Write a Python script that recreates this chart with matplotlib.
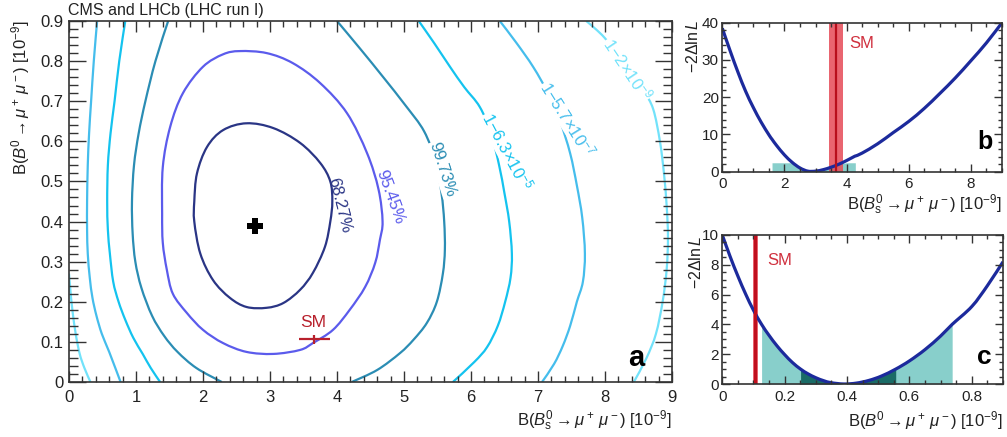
import numpy as np
import matplotlib
matplotlib.use('Agg')
import matplotlib.pyplot as plt
from matplotlib.path import Path
from matplotlib.patches import PathPatch
from matplotlib.ticker import MultipleLocator, FixedLocator, FixedFormatter

plt.rcParams['font.family'] = ['Liberation Sans', 'DejaVu Sans']
plt.rcParams['mathtext.fontset'] = 'custom'
plt.rcParams['mathtext.rm'] = 'Liberation Sans'
plt.rcParams['mathtext.it'] = 'Liberation Sans:italic'
plt.rcParams['mathtext.bf'] = 'Liberation Sans:bold'
plt.rcParams['mathtext.sf'] = 'Liberation Sans'

# ---------------- data: panel a (2D contours) ----------------
best_fit_bs = 2.78
best_fit_b0 = 0.39
sm_bs, sm_bs_err = 3.66, 0.23
sm_b0, sm_b0_err = 0.106, 0.009

c68_x = [2.65, 3.05, 3.45, 3.75, 3.90, 3.93, 3.90, 3.82, 3.64, 3.45, 3.20, 2.95, 2.65, 2.40, 2.15, 1.96, 1.87, 1.87, 1.91, 2.06, 2.30, 2.65]
c68_y = [0.645, 0.633, 0.596, 0.546, 0.50, 0.45, 0.40, 0.337, 0.272, 0.23, 0.197, 0.185, 0.187, 0.21, 0.254, 0.32, 0.40, 0.45, 0.52, 0.586, 0.628, 0.645]

c95_x = [2.55, 2.95, 3.34, 3.75, 4.15, 4.45, 4.62, 4.68, 4.64, 4.57, 4.42, 4.19, 3.94, 3.64, 3.45, 3.05, 2.65, 2.30, 2.00, 1.76, 1.55, 1.46, 1.40, 1.39, 1.40, 1.51, 1.70, 2.00, 2.30, 2.55]
c95_y = [0.825, 0.82, 0.795, 0.745, 0.67, 0.57, 0.48, 0.40, 0.354, 0.297, 0.237, 0.18, 0.13, 0.097, 0.08, 0.07, 0.075, 0.097, 0.13, 0.172, 0.22, 0.28, 0.347, 0.42, 0.536, 0.636, 0.72, 0.786, 0.817, 0.825]

c997_left_x = [1.48, 1.29, 1.14, 1.04, 0.97, 0.94, 0.95, 0.99, 1.08, 1.24, 1.42, 1.62, 1.90, 2.28]
c997_left_y = [0.90, 0.80, 0.70, 0.62, 0.54, 0.45, 0.37, 0.30, 0.235, 0.165, 0.115, 0.075, 0.035, 0.0]
c997_right_x = [4.00, 4.35, 4.69, 5.02, 5.30, 5.47, 5.56, 5.60, 5.61, 5.58, 5.49, 5.34, 5.14, 4.94, 4.60, 4.22]
c997_right_y = [0.90, 0.83, 0.76, 0.69, 0.625, 0.55, 0.47, 0.40, 0.33, 0.27, 0.20, 0.147, 0.105, 0.072, 0.03, 0.0]

c5s_left_x = [0.84, 0.75, 0.68, 0.62, 0.58, 0.57, 0.58, 0.61, 0.66, 0.74, 0.84, 0.96, 1.10, 1.22, 1.36]
c5s_left_y = [0.90, 0.80, 0.70, 0.62, 0.54, 0.45, 0.38, 0.32, 0.25, 0.20, 0.155, 0.11, 0.07, 0.035, 0.0]
c5s_right_x = [5.22, 5.45, 5.69, 5.90, 6.13, 6.30, 6.42, 6.50, 6.57, 6.61, 6.59, 6.51, 6.40, 6.24, 6.05, 5.73]
c5s_right_y = [0.90, 0.845, 0.785, 0.735, 0.686, 0.62, 0.54, 0.47, 0.40, 0.32, 0.26, 0.20, 0.14, 0.087, 0.05, 0.0]

c7s_left_x = [0.42, 0.37, 0.33, 0.30, 0.28, 0.27, 0.27, 0.28, 0.31, 0.35, 0.41, 0.49, 0.60, 0.77]
c7s_left_y = [0.90, 0.80, 0.70, 0.62, 0.54, 0.45, 0.38, 0.32, 0.26, 0.21, 0.165, 0.12, 0.075, 0.0]
c7s_right_x = [6.43, 6.68, 6.93, 7.15, 7.33, 7.48, 7.58, 7.66, 7.70, 7.67, 7.58, 7.48, 7.37, 7.24, 7.06]
c7s_right_y = [0.90, 0.845, 0.785, 0.72, 0.65, 0.57, 0.49, 0.41, 0.32, 0.25, 0.20, 0.14, 0.09, 0.045, 0.0]

c9s_left_x = [0.0, 0.02, 0.05, 0.10, 0.16, 0.23, 0.32]
c9s_left_y = [0.27, 0.23, 0.18, 0.12, 0.07, 0.035, 0.0]
c9s_right_x = [7.72, 7.86, 8.00, 8.20, 8.40, 8.58, 8.72, 8.82, 8.88, 8.92, 8.94, 8.92, 8.86, 8.76, 8.62, 8.43]
c9s_right_y = [0.90, 0.88, 0.857, 0.815, 0.77, 0.725, 0.68, 0.60, 0.52, 0.44, 0.36, 0.28, 0.20, 0.12, 0.06, 0.0]

level_labels = ['68.27%', '95.45%', '99.73%',
                r'1$-$6.3$\times$10$^{-5}$', r'1$-$5.7$\times$10$^{-7}$', r'1$-$2$\times$10$^{-9}$']

a_xticks = [0, 1, 2, 3, 4, 5, 6, 7, 8, 9]
a_xticklabels = ['0', '1', '2', '3', '4', '5', '6', '7', '8', '9']
a_yticks = [0, 0.1, 0.2, 0.3, 0.4, 0.5, 0.6, 0.7, 0.8, 0.9]
a_yticklabels = ['0', '0.1', '0.2', '0.3', '0.4', '0.5', '0.6', '0.7', '0.8', '0.9']

# ---------------- data: panel b (Bs profile) ----------------
b_x = [0.0, 0.25, 0.5, 0.75, 1.0, 1.25, 1.5, 1.6, 1.75, 2.0, 2.25, 2.5, 2.75, 3.0, 3.25, 3.5, 3.75, 4.0, 4.25, 4.28, 4.5, 5.0, 5.5, 6.0, 6.5, 7.0, 7.5, 8.0, 8.5, 9.0]
b_y = [38.5, 32.5, 26.8, 21.6, 17.2, 13.3, 9.9, 8.7, 7.0, 4.5, 2.5, 1.0, 0.15, 0.15, 0.55, 1.2, 2.0, 3.0, 4.1, 4.2, 5.0, 7.5, 10.5, 13.5, 17.0, 21.0, 25.2, 29.8, 34.6, 40.0]
b_band_lo, b_band_hi, b_band_top = 1.6, 4.28, 2.4
b_xticks = [0, 2, 4, 6, 8]
b_xticklabels = ['0', '2', '4', '6', '8']
b_yticks = [0, 10, 20, 30, 40]
b_yticklabels = ['0', '10', '20', '30', '40']

# ---------------- data: panel c (B0 profile) ----------------
c_x = [0.0, 0.025, 0.05, 0.075, 0.1, 0.126, 0.15, 0.175, 0.2, 0.225, 0.251, 0.275, 0.3, 0.325, 0.35, 0.39, 0.43, 0.47, 0.51, 0.556, 0.6, 0.65, 0.7, 0.737, 0.8, 0.85, 0.9]
c_y = [10.0, 8.56, 7.24, 6.03, 4.95, 4.0, 3.26, 2.57, 1.97, 1.44, 1.0, 0.68, 0.42, 0.22, 0.083, 0.0, 0.06, 0.24, 0.53, 1.0, 1.55, 2.31, 3.22, 4.0, 5.2, 6.6, 8.2]
c_1s_lo, c_1s_hi = 0.251, 0.556
c_2s_lo, c_2s_hi = 0.126, 0.737
c_xticks = [0, 0.2, 0.4, 0.6, 0.8]
c_xticklabels = ['0', '0.2', '0.4', '0.6', '0.8']
c_yticks = [0, 2, 4, 6, 8, 10]
c_yticklabels = ['0', '2', '4', '6', '8', '10']

# ---------------- styling ----------------
W, H = 1007, 437
col68 = '#2a3585'
col95 = '#5b5bec'
col997 = '#2b8db4'
col5s = '#14c3ef'
col7s = '#45bdec'
col9s = '#72e2fa'
sm_red = '#b8202c'
band_red = '#e64a57'
curve_blue = '#1c2a9c'
teal_light = '#88cfcb'
teal_dark = '#1a6b66'
axcol = '#333333'
txtcol = '#222222'


def px_axes(l, t, r, b):
    return [l / W, 1 - b / H, (r - l) / W, (b - t) / H]


def smooth_path(xs, ys, closed=False):
    """Cubic Bezier path passing through the given points (Catmull-Rom tangents)."""
    pts = np.column_stack([xs, ys]).astype(float)
    n = len(pts)
    verts = [pts[0]]
    codes = [Path.MOVETO]
    for i in range(n - 1):
        if i > 0:
            p0 = pts[i - 1]
        else:
            p0 = pts[-2] if closed else pts[0]
        p1 = pts[i]
        p2 = pts[i + 1]
        if i + 2 < n:
            p3 = pts[i + 2]
        else:
            p3 = pts[1] if closed else pts[i + 1]
        c1 = p1 + (p2 - p0) / 6.0
        c2 = p2 - (p3 - p1) / 6.0
        verts += [c1, c2, p2]
        codes += [Path.CURVE4] * 3
    return Path(verts, codes)


def style(ax, xmaj_len, xmin_len, ymaj_len, ymin_len, fs, xpad, ypad):
    for s in ax.spines.values():
        s.set_linewidth(1.2)
        s.set_color(axcol)
    ax.tick_params(which='both', direction='in', top=True, right=True,
                   width=1.0, color=axcol, labelcolor=txtcol, labelsize=fs)
    ax.tick_params(axis='x', which='major', length=xmaj_len, pad=xpad)
    ax.tick_params(axis='x', which='minor', length=xmin_len)
    ax.tick_params(axis='y', which='major', length=ymaj_len, pad=ypad)
    ax.tick_params(axis='y', which='minor', length=ymin_len)


fig = plt.figure(figsize=(W / 100, H / 100), dpi=100)

# ================= panel a =================
axa = fig.add_axes(px_axes(69, 21, 672, 382))
lw = 1.6
for xs, ys, col, closed in [(c68_x, c68_y, col68, True), (c95_x, c95_y, col95, True),
                            (c997_left_x, c997_left_y, col997, False), (c997_right_x, c997_right_y, col997, False),
                            (c5s_left_x, c5s_left_y, col5s, False), (c5s_right_x, c5s_right_y, col5s, False),
                            (c7s_left_x, c7s_left_y, col7s, False), (c7s_right_x, c7s_right_y, col7s, False),
                            (c9s_left_x, c9s_left_y, col9s, False), (c9s_right_x, c9s_right_y, col9s, False)]:
    axa.add_patch(PathPatch(smooth_path(xs, ys, closed), facecolor='none', edgecolor=col,
                            lw=lw, capstyle='butt', joinstyle='round'))

axa.plot([best_fit_bs], [best_fit_b0], marker='P', color='black', ms=12, mew=0)

axa.errorbar([sm_bs], [sm_b0], xerr=[sm_bs_err], yerr=[sm_b0_err * 1.3], color=sm_red,
             lw=1.6, capsize=0)
axa.text(sm_bs - 0.01, sm_b0 + 0.032, 'SM', color=sm_red, fontsize=12.5, ha='center', va='baseline')

lab_specs = [
    (level_labels[0], 4.03, 0.44, -76, col68, False),
    (level_labels[1], 4.80, 0.46, -70, col95, False),
    (level_labels[2], 5.57, 0.53, -72, col997, True),
    (level_labels[3], 6.54, 0.575, -62, col5s, True),
    (level_labels[4], 7.45, 0.656, -58, col7s, True),
    (level_labels[5], 8.34, 0.78, -56, col9s, True),
]
for txt, x, y, rot, col, box in lab_specs:
    kw = {}
    if box:
        kw['bbox'] = dict(facecolor='white', edgecolor='none', pad=0.5)
    axa.text(x, y, txt, color=col, fontsize=12, rotation=rot, ha='center', va='center',
             rotation_mode='anchor', **kw)

axa.set_xlim(0, 9)
axa.set_ylim(0, 0.9)
axa.xaxis.set_major_locator(FixedLocator(a_xticks))
axa.xaxis.set_major_formatter(FixedFormatter(a_xticklabels))
axa.yaxis.set_major_locator(FixedLocator(a_yticks))
axa.yaxis.set_major_formatter(FixedFormatter(a_yticklabels))
axa.xaxis.set_minor_locator(MultipleLocator(0.2))
axa.yaxis.set_minor_locator(MultipleLocator(0.02))
style(axa, 8, 4.3, 12, 6.5, 12, 6, 4)
axa.text(0.955, 0.045, 'a', transform=axa.transAxes, fontsize=21, fontweight='bold',
         ha='right', va='baseline', color='black')

fig.text(68 / W, 1 - 10 / H, 'CMS and LHCb (LHC run I)', fontsize=11.5, ha='left', va='center',
         color=txtcol)
fig.text(21 / W, 1 - 20 / H, r'B($B^0 \rightarrow \mu^+\,\mu^-$) [10$^{-9}$]', rotation=90,
         fontsize=12, ha='center', va='top', color=txtcol)
fig.text(672 / W, 1 - 421 / H, r'B($B^0_\mathrm{s} \rightarrow \mu^+\,\mu^-$) [10$^{-9}$]',
         fontsize=12, ha='right', va='center', color=txtcol)

# ================= panel b =================
axb = fig.add_axes(px_axes(722.3, 22.7, 1002, 171.7))
bx = np.array(b_x)
by = np.array(b_y)
axb.fill_between(bx, 0, np.minimum(by, b_band_top), where=(bx >= b_band_lo) & (bx <= b_band_hi),
                 color=teal_light, lw=0)
axb.axvspan(sm_bs - sm_bs_err, sm_bs + sm_bs_err, color=band_red, alpha=0.85, lw=0)
axb.axvline(sm_bs, color='#b80f1c', lw=1.6)
axb.add_patch(PathPatch(smooth_path(bx, by), facecolor='none', edgecolor=curve_blue, lw=2.3))
axb.text(4.07, 33.3, 'SM', color='#d0303e', fontsize=12, ha='left', va='baseline')
axb.set_xlim(0, 9)
axb.set_ylim(0, 40)
axb.xaxis.set_major_locator(FixedLocator(b_xticks))
axb.xaxis.set_major_formatter(FixedFormatter(b_xticklabels))
axb.yaxis.set_major_locator(FixedLocator(b_yticks))
axb.yaxis.set_major_formatter(FixedFormatter(b_yticklabels))
axb.xaxis.set_minor_locator(MultipleLocator(0.5))
axb.yaxis.set_minor_locator(MultipleLocator(2))
style(axb, 6, 3, 6, 3, 11, 4, 2.5)
axb.text(0.965, 0.15, 'b', transform=axb.transAxes, fontsize=18, fontweight='bold',
         ha='right', va='baseline', color='black')
fig.text(693 / W, 1 - 20 / H, r'$-2\Delta\mathrm{ln}\,L$', rotation=90, fontsize=11.5,
         ha='center', va='top', color=txtcol)
fig.text(1002 / W, 1 - 205 / H, r'B($B^0_\mathrm{s} \rightarrow \mu^+\,\mu^-$) [10$^{-9}$]',
         fontsize=12, ha='right', va='center', color=txtcol)

# ================= panel c =================
axc = fig.add_axes(px_axes(722.3, 235, 1003, 384))
cx = np.array(c_x)
cy = np.array(c_y)
axc.fill_between(cx, 0, cy, where=(cx >= c_2s_lo) & (cx <= c_2s_hi), color=teal_light, lw=0)
axc.fill_between(cx, 0, cy, where=(cx >= c_1s_lo) & (cx <= c_1s_hi), color=teal_dark, lw=0)
axc.axvspan(sm_b0 - sm_b0_err, sm_b0 + sm_b0_err, color=band_red, alpha=0.85, lw=0)
axc.axvline(sm_b0, color='#c0101e', lw=2.2)
axc.add_patch(PathPatch(smooth_path(cx, cy), facecolor='none', edgecolor=curve_blue, lw=2.3))
axc.text(0.144, 8.0, 'SM', color='#d0303e', fontsize=12, ha='left', va='baseline')
axc.set_xlim(0, 0.9)
axc.set_ylim(0, 10)
axc.xaxis.set_major_locator(FixedLocator(c_xticks))
axc.xaxis.set_major_formatter(FixedFormatter(c_xticklabels))
axc.yaxis.set_major_locator(FixedLocator(c_yticks))
axc.yaxis.set_major_formatter(FixedFormatter(c_yticklabels))
axc.xaxis.set_minor_locator(MultipleLocator(0.05))
axc.yaxis.set_minor_locator(MultipleLocator(0.5))
style(axc, 6, 3, 6, 3, 11, 4, 2.5)
axc.text(0.96, 0.135, 'c', transform=axc.transAxes, fontsize=19, fontweight='bold',
         ha='right', va='baseline', color='black')
fig.text(696 / W, 1 - 236 / H, r'$-2\Delta\mathrm{ln}\,L$', rotation=90, fontsize=11.5,
         ha='center', va='top', color=txtcol)
fig.text(1003 / W, 1 - 421 / H, r'B($B^0 \rightarrow \mu^+\,\mu^-$) [10$^{-9}$]',
         fontsize=12, ha='right', va='center', color=txtcol)

fig.savefig('out.png', dpi=100)
